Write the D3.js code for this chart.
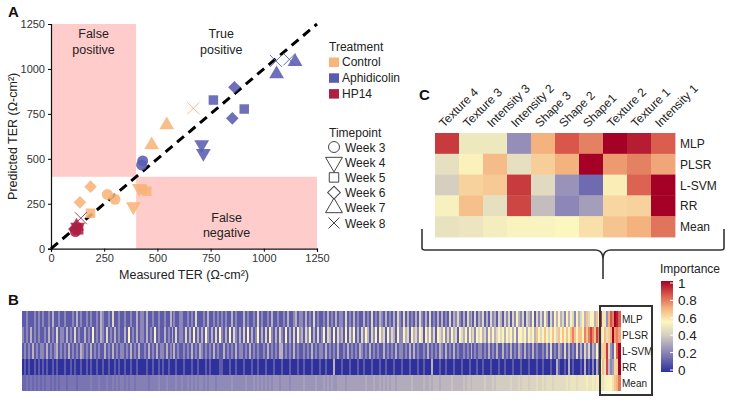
<!DOCTYPE html>
<html>
<head>
<meta charset="utf-8">
<script src="https://cdn.jsdelivr.net/npm/d3@7"></script>
<style>
  body { margin: 0; background: #fff; }
  svg { font-family: "Liberation Sans", Arial, sans-serif; }
</style>
</head>
<body>
<svg id="chart" width="730" height="400"></svg>
<script>
// ---------- Panel A data ----------
const treatments = ['Control', 'Aphidicolin', 'HP14'];
const treatmentColors = ['#f8b47a', '#5a5cb0', '#ad1f45'];
const weeks = ['Week 3', 'Week 4', 'Week 5', 'Week 6', 'Week 7', 'Week 8'];
const axisTicks = [0, 250, 500, 750, 1000, 1250];

const measured  = [544, 473, 669, 265, 301, 186, 136, 186, 450, 430, 415, 387,
                   431, 426, 708, 716, 763, 908, 862, 852, 1060, 1147, 1057, 1120,
                   115, 125, 130, 110, 120, 140];
const predicted = [688, 577, 781, 302, 275, 345, 258, 197, 320, 328, 336, 234,
                   488, 466, 580, 531, 827, 777, 898, 725, 972, 1040, 1044, 1053,
                   95, 120, 105, 110, 125, 170];
const pointTreatment = [0,0,0,0,0,0,0,0,0,0,0,0, 1,1,1,1,1,1,1,1,1,1,1,1, 2,2,2,2,2,2];
const pointWeek      = [4,4,5,0,0,3,3,2,2,2,1,1, 0,0,1,1,2,2,3,3,4,4,5,5, 0,1,2,3,4,5];

// ---------- Panel C data ----------
const features = ['Texture 4', 'Texture 3', 'Intensity 3', 'Intensity 2', 'Shape 3',
                  'Shape 2', 'Shape1', 'Texture 2', 'Texture 1', 'Intensity 1'];
const models = ['MLP', 'PLSR', 'L-SVM', 'RR', 'Mean'];
const cMLP  = [0.90, 0.50, 0.50, 0.24, 0.70, 0.85, 0.78, 1.00, 0.95, 0.84];
const cPLSR = [0.47, 0.56, 0.68, 0.47, 0.64, 0.70, 1.00, 0.74, 0.78, 0.72];
const cLSVM = [0.41, 0.63, 0.65, 0.90, 0.45, 0.25, 0.15, 0.57, 0.83, 1.00];
const cRR   = [0.53, 0.67, 0.47, 0.88, 0.36, 0.22, 0.28, 0.62, 0.63, 1.00];
const cMean = [0.48, 0.49, 0.52, 0.54, 0.54, 0.55, 0.60, 0.66, 0.70, 0.80];

// ---------- Panel B data: one digit per feature (value = digit / 9) ----------
const bMLP = ["1121112121","2112131121","1211121312","1121211213","2112141121",
  "1211211312","2131121121","1211312112","2112121411","1213112121",
  "2121131211","1312112141","2112131121","1213112312","2131214121",
  "1213121312","2141213121","1312141213","2131213142","1413121314",
  "2131412131","3121413242","1314231413","2413142314","3142414253",
  "2414325142","4253142535","3425354253","4536455365"].join('');
const bPLSR = ["2121312121","1213121412","2131214121","1312151213","2141213121",
  "1315121312","2131215121","1312131412","2141315131","3152131415",
  "2131514213","1415131251","3141521314","2151314152","3142513141",
  "2514315142","3151425131","4253142515","3415243152","2534153425",
  "4153524154","3524253415","4352534254","5342535345","4535453525",
  "5453545365","4565456546","5656567656","6576787687"].join('');
const bLSVM = ["1212131212","2131212312","1213121213","2121312121","1312131212",
  "2121312131","1213121312","2131213121","1212131213","2121213121",
  "1312121312","2121312121","1213121213","3121213121","1212131212",
  "2131212131","1213121213","2121312121","1312121312","2121313121",
  "1213121213","2131213121","1212131212","2121312131","1312131213",
  "2131213121","1213141213","2141312141","3142413252"].join('');
const bRR = ["0101001010","1010010100","0100101001","0010100100","1001001010",
  "0100100100","0010010010","1001000100","0100010010","0010100001",
  "1000100100","0100010010","0010001000","1000100010","0100010001",
  "0010003000","1000100010","0100010001","0010001000","1000100010",
  "0100030001","0010001000","1000100010","0100010001","0010001000",
  "1000100010","0100010031","0010301000","1030102031"].join('');
// mean row: base-36 digit / 35
const bMean = ["5565656565","6566565656","6656666566","6666766676","6676676767",
  "7676776777","7776777787","7787777877","8778787878","8787888788",
  "8888898888","8898889898","9898989998","9999899999","9a99999a99",
  "9a9a9a99aa","aa9aaaaaaa","aabaaabaab","abababbabb","bbbbbcbbbb",
  "bcbbcbcccb","cccccdcccc","cdcddcdddd","ddedddedee","eeeeefeeef",
  "efffefffgf","fgfgggfggg","ggghghhhgh","hhhihhihii"].join('');

const colorTicks = [0, 0.2, 0.4, 0.6, 0.8, 1];

// ---------- shared colour scale ----------
const importanceColor = d3.scaleLinear()
  .domain([0, 0.2, 0.4, 0.55, 0.7, 0.85, 1])
  .range(['#2e309c', '#857fb6', '#d3ccc0', '#fcf6bf', '#f4b27f', '#d8574a', '#a50026'])
  .interpolate(d3.interpolateRgb)
  .clamp(true);

const svg = d3.select('#chart');

// panel letters
[['A', 8, 17], ['B', 8, 305], ['C', 419, 100]].forEach(([t, x, y]) => {
  svg.append('text').attr('x', x).attr('y', y).attr('font-size', 15)
    .attr('font-weight', 'bold').attr('fill', '#111').text(t);
});

// ================= Panel A =================
const x = d3.scaleLinear().domain([0, 1250]).range([51, 317]);
const y = d3.scaleLinear().domain([0, 1250]).range([248.7, 24]);
const gA = svg.append('g');

// shaded quadrants
gA.append('rect').attr('x', x(0)).attr('y', y(1250))
  .attr('width', x(400) - x(0)).attr('height', y(400) - y(1250)).attr('fill', '#ffcccc');
gA.append('rect').attr('x', x(400)).attr('y', y(400))
  .attr('width', x(1250) - x(400)).attr('height', y(0) - y(400)).attr('fill', '#ffcccc');

const quadText = [
  ['False', 'positive', 200, 1170],
  ['True', 'positive', 800, 1170],
  ['False', 'negative', 825, 150]
];
quadText.forEach(([a, b, qx, qy]) => {
  const t = gA.append('text').attr('text-anchor', 'middle').attr('font-size', 12.5).attr('fill', '#222');
  t.append('tspan').attr('x', x(qx)).attr('y', y(qy)).text(a);
  t.append('tspan').attr('x', x(qx)).attr('dy', 15.5).text(b);
});

// axes
const fmt = d3.format('d');
gA.append('g').attr('transform', `translate(0,${y(0)})`)
  .call(d3.axisBottom(x).tickValues(axisTicks).tickFormat(fmt).tickSize(3).tickPadding(3))
  .call(g => g.selectAll('text').attr('font-size', 11).attr('fill', '#333'));
gA.append('g').attr('transform', `translate(${x(0)},0)`)
  .call(d3.axisLeft(y).tickValues(axisTicks).tickFormat(fmt).tickSize(3).tickPadding(3))
  .call(g => g.selectAll('text').attr('font-size', 11).attr('fill', '#333'));
gA.selectAll('.domain').attr('stroke', '#111').attr('stroke-width', 1.2);

gA.append('text').attr('x', x(625)).attr('y', 279).attr('text-anchor', 'middle')
  .attr('font-size', 12.5).attr('fill', '#222').text('Measured TER (Ω-cm²)');
gA.append('text').attr('transform', `translate(17,${y(625)}) rotate(-90)`)
  .attr('text-anchor', 'middle').attr('font-size', 12.5).attr('fill', '#222')
  .text('Predicted TER (Ω-cm²)');

// identity line
gA.append('line').attr('x1', x(0)).attr('y1', y(0)).attr('x2', x(1250)).attr('y2', y(1250))
  .attr('stroke', '#000').attr('stroke-width', 3).attr('stroke-dasharray', '9,6');

// symbol helper
const symbolFor = (w, s) => {
  const types = [d3.symbolCircle, d3.symbolTriangle, d3.symbolSquare, d3.symbolSquare, d3.symbolTriangle, d3.symbolX];
  const sizes = [95, 95, 90, 80, 95, 0];
  return d3.symbol().type(types[w]).size(sizes[w] * s)();
};
const rotFor = w => (w === 1 ? 180 : w === 3 ? 45 : 0);
const crossPath = r => `M${-r},${-r}L${r},${r}M${-r},${r}L${r},${-r}`;

gA.append('g').selectAll('path').data(d3.range(measured.length)).join('path')
  .attr('transform', i => `translate(${x(measured[i])},${y(predicted[i])}) rotate(${rotFor(pointWeek[i])})`)
  .attr('d', i => pointWeek[i] === 5 ? crossPath(6) : symbolFor(pointWeek[i], 1))
  .attr('fill', i => pointWeek[i] === 5 ? 'none' : treatmentColors[pointTreatment[i]])
  .attr('stroke', i => pointWeek[i] === 5 ? treatmentColors[pointTreatment[i]] : 'none')
  .attr('stroke-width', 1)
  .attr('opacity', 0.88);

// legend
const gL = svg.append('g').attr('font-size', 12).attr('fill', '#222');
gL.append('text').attr('x', 329).attr('y', 51).text('Treatment');
treatments.forEach((t, i) => {
  gL.append('rect').attr('x', 329).attr('y', 57.5 + i * 15.8).attr('width', 10).attr('height', 9.5)
    .attr('fill', treatmentColors[i]);
  gL.append('text').attr('x', 342).attr('y', 66 + i * 15.8).text(t);
});
gL.append('text').attr('x', 329).attr('y', 137).text('Timepoint');
weeks.forEach((w, i) => {
  const cy = 147 + i * 15.2;
  gL.append('path')
    .attr('transform', `translate(334,${cy}) rotate(${rotFor(i)})`)
    .attr('d', i === 5 ? crossPath(5.5) : symbolFor(i, i === 1 || i === 4 ? 1.3 : 1))
    .attr('fill', 'none').attr('stroke', '#444').attr('stroke-width', 1);
  gL.append('text').attr('x', 345).attr('y', cy + 4.5).text(w);
});

// ================= Panel C =================
const cRows = [cMLP, cPLSR, cLSVM, cRR, cMean];
const cx = d3.scaleBand().domain(features).range([435, 675]);
const cy = d3.scaleBand().domain(models).range([133, 237]);
const gC = svg.append('g');
models.forEach((m, r) => {
  gC.append('g').selectAll('rect').data(cRows[r]).join('rect')
    .attr('x', (d, i) => cx(features[i])).attr('y', cy(m))
    .attr('width', cx.bandwidth() + 0.4).attr('height', cy.bandwidth() + 0.4)
    .attr('fill', d => importanceColor(d));
  gC.append('text').attr('x', 680).attr('y', cy(m) + cy.bandwidth() / 2 + 4.5)
    .attr('font-size', 12).attr('fill', '#222').text(m);
});
gC.selectAll('.flabel').data(features).join('text')
  .attr('class', 'flabel')
  .attr('transform', d => `translate(${cx(d) + cx.bandwidth() / 2 - 3},${128}) rotate(-45)`)
  .attr('font-size', 12).attr('fill', '#222').text(d => d);

// brace
svg.append('path')
  .attr('d', 'M422,229 L422,248 Q422,250 425,250 L595,250 Q603,250 603,259 L603,279 M603,259 Q603,250 611,250 L721,250 Q724,250 724,248 L724,229')
  .attr('fill', 'none').attr('stroke', '#333').attr('stroke-width', 1.6);

// ================= Panel B =================
const decode9 = s => Array.from(s, c => +c / 9);
const decode36 = s => Array.from(s, c => parseInt(c, 36) / 35);
const bRows = [
  decode9(bMLP).concat(cMLP),
  decode9(bPLSR).concat(cPLSR),
  decode9(bLSVM).concat(cLSVM),
  decode9(bRR).concat(cRR),
  decode36(bMean).concat(cMean)
];
const nCols = d3.max(bRows, r => r.length);
const bx = d3.scaleBand().domain(d3.range(nCols)).range([22, 620]);
const by = d3.scaleBand().domain(models).range([311, 391]);
const gB = svg.append('g').attr('shape-rendering', 'crispEdges');
models.forEach((m, r) => {
  gB.append('g').selectAll('rect').data(bRows[r]).join('rect')
    .attr('x', (d, i) => bx(i)).attr('y', by(m))
    .attr('width', bx.bandwidth() + 0.6).attr('height', by.bandwidth())
    .attr('fill', d => importanceColor(d));
});
svg.append('rect').attr('x', 600).attr('y', 306).attr('width', 52).attr('height', 89)
  .attr('fill', 'none').attr('stroke', '#333').attr('stroke-width', 2);
models.forEach(m => {
  svg.append('text').attr('x', 622).attr('y', by(m) + by.bandwidth() / 2 + 3.5)
    .attr('font-size', 10).attr('fill', '#222').text(m);
});

// ================= colour bar =================
const defs = svg.append('defs');
const grad = defs.append('linearGradient').attr('id', 'imp').attr('x1', 0).attr('y1', 1).attr('x2', 0).attr('y2', 0);
d3.range(0, 1.001, 0.05).forEach(v => {
  grad.append('stop').attr('offset', v).attr('stop-color', importanceColor(v));
});
const cb = d3.scaleLinear().domain([0, 1]).range([370, 283]);
svg.append('text').attr('x', 660).attr('y', 273).attr('font-size', 12).attr('fill', '#222').text('Importance');
svg.append('rect').attr('x', 661).attr('y', 281).attr('width', 12).attr('height', 91).attr('fill', 'url(#imp)');
colorTicks.forEach(t => {
  svg.append('line').attr('x1', 670).attr('x2', 673).attr('y1', cb(t)).attr('y2', cb(t))
    .attr('stroke', '#fff').attr('stroke-width', 1);
  svg.append('text').attr('x', 678).attr('y', cb(t) + 5).attr('font-size', 13.5).attr('fill', '#222').text(t);
});
</script>
</body>
</html>
